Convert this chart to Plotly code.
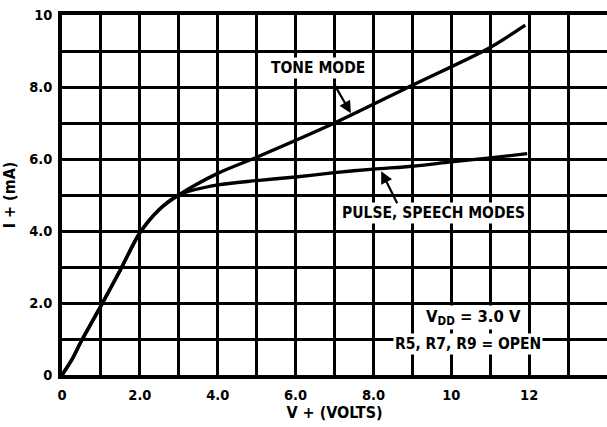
import plotly.graph_objects as go

# ---- data ----
common_v = [0.0, 0.25, 0.5, 1.0, 1.5, 2.0, 2.5, 3.0]
common_i = [0.0, 0.42, 0.95, 1.92, 2.92, 3.95, 4.6, 5.0]

tone_v = [4.0, 5.0, 7.0, 9.0, 11.0, 11.9]
tone_i = [5.6, 6.05, 7.0, 8.05, 9.1, 9.72]

pulse_v = [4.0, 5.0, 6.0, 7.0, 8.0, 9.0, 10.0, 11.0, 11.95]
pulse_i = [5.28, 5.4, 5.5, 5.62, 5.72, 5.8, 5.92, 6.03, 6.15]

x_ticks = list(range(0, 15))
x_labels = ["0", "", "2.0", "", "4.0", "", "6.0", "", "8.0", "", "10", "", "12", "", ""]
y_ticks = list(range(0, 11))
y_labels = ["0", "", "2.0", "", "4.0", "", "6.0", "", "8.0", "", "10"]

FONT = "DejaVu Sans Condensed, Liberation Sans Narrow, sans-serif"

fig = go.Figure()
line = dict(color="black", width=3.4, shape="spline", smoothing=0.8)
fig.add_trace(go.Scatter(x=common_v + tone_v, y=common_i + tone_i, mode="lines",
                         line=line, hoverinfo="skip"))
fig.add_trace(go.Scatter(x=common_v + pulse_v, y=common_i + pulse_i, mode="lines",
                         line=line, hoverinfo="skip"))

ann_font = dict(family=FONT, size=15.5, color="black")
fig.add_annotation(x=6.57, y=8.53, xref="x", yref="y", text="<b>TONE MODE</b>",
                   showarrow=False, font=ann_font, bgcolor="white", borderpad=1)
fig.add_annotation(x=7.42, y=7.27, ax=6.98, ay=8.1, xref="x", yref="y", axref="x", ayref="y",
                   text="", showarrow=True, arrowhead=2, arrowsize=1.1, arrowwidth=2.2,
                   arrowcolor="black")
fig.add_annotation(x=9.54, y=4.51, xref="x", yref="y", text="<b>PULSE, SPEECH MODES</b>",
                   showarrow=False, font=ann_font, bgcolor="white", borderpad=1)
fig.add_annotation(x=8.2, y=5.66, ax=8.63, ay=4.73, xref="x", yref="y", axref="x", ayref="y",
                   text="", showarrow=True, arrowhead=2, arrowsize=1.1, arrowwidth=2.2,
                   arrowcolor="black")
fig.add_annotation(x=10.57, y=1.6, xref="x", yref="y",
                   text="<b>V<sub>DD</sub> = 3.0 V</b>",
                   showarrow=False, font=dict(family=FONT, size=16.5, color="black"),
                   bgcolor="white", borderpad=1)
fig.add_annotation(x=10.44, y=0.86, xref="x", yref="y",
                   text="<b>R5, R7, R9 = OPEN</b>",
                   showarrow=False, font=ann_font, bgcolor="white", borderpad=1)

axis_common = dict(showgrid=True, gridcolor="black", gridwidth=2.8,
                   showline=True, linecolor="black", linewidth=3.5, mirror=True,
                   zeroline=False, ticks="", automargin=False,
                   tickfont=dict(family=FONT, size=14.5, color="black"))

fig.update_xaxes(range=[0, 14], tickvals=x_ticks, ticktext=[f"<b>{t}</b>" if t else "" for t in x_labels],
                 ticklabelstandoff=4,
                 title=dict(text="<b>V + (VOLTS)</b>", font=dict(family=FONT, size=16, color="black"),
                            standoff=3),
                 **axis_common)
fig.update_yaxes(range=[0, 10], tickvals=y_ticks, ticktext=[f"<b>{t}</b>" if t else "" for t in y_labels],
                 ticklabelstandoff=3,
                 title=dict(text="<b>I + (mA)</b>", font=dict(family=FONT, size=16, color="black"),
                            standoff=12),
                 **axis_common)

fig.update_layout(width=607, height=427, showlegend=False,
                  margin=dict(l=62, r=0, t=15, b=52),
                  paper_bgcolor="white", plot_bgcolor="white")

fig.write_html("out.html", config={"displayModeBar": False},
               post_script="document.body.style.margin='0';document.body.style.overflow='hidden';")
